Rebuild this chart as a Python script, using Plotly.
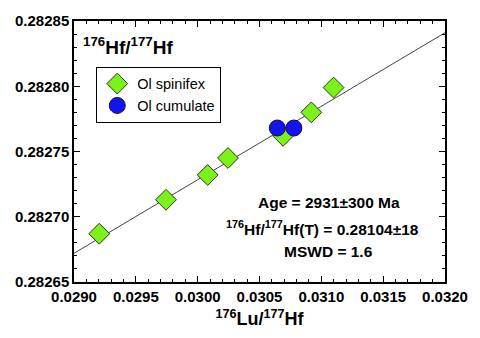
import plotly.graph_objects as go

spin_x = [0.029204, 0.029744, 0.030081, 0.030245, 0.030691, 0.030919, 0.031099]
spin_y = [0.282687, 0.282713, 0.282732, 0.282745, 0.282762, 0.282780, 0.282799]
cum_x = [0.030644, 0.030778]
cum_y = [0.282768, 0.282768]
line_x = [0.0290, 0.0320]
line_y = [0.282672, 0.282841]
x_ticks = [0.0290, 0.0295, 0.0300, 0.0305, 0.0310, 0.0315, 0.0320]
x_labels = ["0.0290", "0.0295", "0.0300", "0.0305", "0.0310", "0.0315", "0.0320"]
y_ticks = [0.28265, 0.28270, 0.28275, 0.28280, 0.28285]
y_labels = ["0.28265", "0.28270", "0.28275", "0.28280", "0.28285"]

FONT = "Liberation Sans, Arial, sans-serif"

fig = go.Figure()
fig.add_trace(go.Scatter(x=line_x, y=line_y, mode="lines",
                         line=dict(color="#444444", width=1), showlegend=False, hoverinfo="skip"))
fig.add_trace(go.Scatter(x=spin_x, y=spin_y, mode="markers", name="Ol spinifex",
                         marker=dict(symbol="diamond", size=16, color="#7cf21c",
                                     line=dict(color="#2a3a10", width=1))))
fig.add_trace(go.Scatter(x=cum_x, y=cum_y, mode="markers", name="Ol cumulate",
                         marker=dict(symbol="circle", size=16, color="#1414f0",
                                     line=dict(color="#10104a", width=1))))

axis_common = dict(showline=True, linecolor="black", linewidth=1.5, mirror="ticks",
                   ticks="inside", ticklen=6, tickwidth=1.2, tickcolor="black",
                   showgrid=False, zeroline=False, tickmode="array",
                   tickfont=dict(family=FONT, size=15, color="black"))

fig.update_xaxes(range=[0.0290, 0.0320], tickvals=x_ticks,
                 ticktext=["<b>" + s + "</b>" for s in x_labels],
                 minor=dict(dtick=0.0001, ticks="inside", ticklen=3, tickcolor="black", tickwidth=1),
                 title=dict(text="<b><sup>176</sup>Lu/<sup>177</sup>Hf</b>",
                            font=dict(family=FONT, size=18, color="black"),
                            standoff=9),
                 **axis_common)
fig.update_yaxes(range=[0.28265, 0.28285], tickvals=y_ticks,
                 ticktext=["<b>" + s + "</b>" for s in y_labels],
                 minor=dict(dtick=0.00001, ticks="inside", ticklen=3, tickcolor="black", tickwidth=1),
                 **axis_common)

fig.add_annotation(x=0.02, y=0.905, xref="paper", yref="paper", xanchor="left", yanchor="middle",
                   text="<b><sup>176</sup>Hf/<sup>177</sup>Hf</b>", showarrow=False,
                   font=dict(family=FONT, size=19, color="black"))

stat_lines = ["Age = 2931±300 Ma",
              "<sup>176</sup>Hf/<sup>177</sup>Hf(T) = 0.28104±18",
              "MSWD = 1.6"]
stat_pos = [(0.686, 0.303), (0.671, 0.208), (0.686, 0.118)]
for t, (px, py) in zip(stat_lines, stat_pos):
    fig.add_annotation(x=px, y=py, xref="paper", yref="paper", xanchor="center", yanchor="middle",
                       text="<b>" + t + "</b>", showarrow=False,
                       font=dict(family=FONT, size=15.5, color="black"))

fig.update_layout(
    width=480, height=338,
    margin=dict(l=74, r=23, t=15, b=55),
    paper_bgcolor="white", plot_bgcolor="white",
    legend=dict(x=0.06, y=0.825, xanchor="left", yanchor="top",
                bordercolor="black", borderwidth=1, bgcolor="white",
                font=dict(family=FONT, size=14.5, color="black"),
                itemsizing="trace", tracegroupgap=0),
)

fig.write_html("out.html")
